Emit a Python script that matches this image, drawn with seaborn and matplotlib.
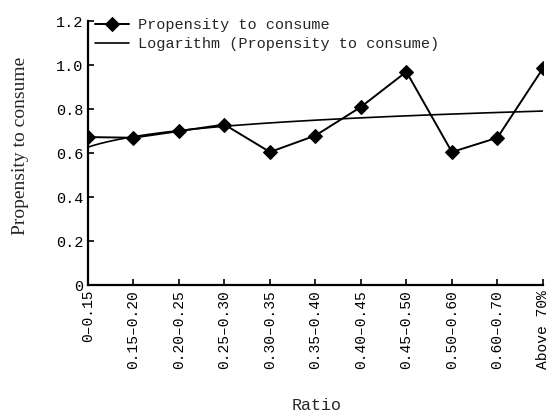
import matplotlib
matplotlib.use("Agg")
import matplotlib.pyplot as plt
import numpy as np
import seaborn as sns
import pandas as pd

# values
ratio_labels = ["0–0.15", "0.15–0.20", "0.20–0.25", "0.25–0.30", "0.30–0.35",
                "0.35–0.40", "0.40–0.45", "0.45–0.50", "0.50–0.60", "0.60–0.70",
                "Above 70%"]
propensity = [0.673, 0.670, 0.700, 0.730, 0.605, 0.680, 0.810, 0.970, 0.605, 0.670, 0.985]
y_ticks = [0, 0.2, 0.4, 0.6, 0.8, 1.0, 1.2]
y_ticklabels = ["0", "0.2", "0.4", "0.6", "0.8", "1.0", "1.2"]

sns.set_style("ticks")
plt.rcParams["font.family"] = ["Liberation Mono", "DejaVu Sans"]

df = pd.DataFrame({"pos": np.arange(len(ratio_labels)), "val": propensity})

# logarithmic trend line (like a spreadsheet trendline), fitted on x = 1..n
xn = np.arange(1, len(propensity) + 1)
a, b = np.polyfit(np.log(xn), propensity, 1)
xs = np.linspace(1, len(propensity), 300)
trend = pd.DataFrame({"pos": xs - 1, "val": a * np.log(xs) + b})

fig, ax = plt.subplots(figsize=(5.5, 4.15), dpi=100)
fig.subplots_adjust(left=0.16, right=0.987, top=0.949, bottom=0.313)

sns.lineplot(data=df, x="pos", y="val", ax=ax, color="black", lw=1.4,
             marker="D", markersize=7, markeredgecolor="black",
             label="Propensity to consume")
sns.lineplot(data=trend, x="pos", y="val", ax=ax, color="black", lw=1.2,
             label="Logarithm (Propensity to consume)")

ax.set_xlim(0, len(ratio_labels) - 1)
ax.set_ylim(0, 1.2)
ax.set_yticks(y_ticks)
ax.set_yticklabels(y_ticklabels, fontsize=11)
ax.set_xticks(df["pos"])
ax.set_xticklabels(ratio_labels, rotation=90, fontsize=10.5, ha="center", va="top")
ax.tick_params(direction="in", length=4, width=1.2, colors="black")

for s in ["top", "right"]:
    ax.spines[s].set_visible(False)
for s in ["left", "bottom"]:
    ax.spines[s].set_linewidth(1.6)
    ax.spines[s].set_color("black")

ax.set_xlabel("Ratio", fontsize=12)
ax.xaxis.label.set_va("center")
ax.xaxis.set_label_coords(0.503, -0.455)
ax.set_ylabel("Propensity to consume", fontsize=14, family=["Liberation Serif"])
ax.yaxis.label.set_va("center")
ax.yaxis.set_label_coords(-0.148, 0.527)

ax.legend(loc="upper left", frameon=False, fontsize=11, bbox_to_anchor=(-0.005, 1.045),
          handlelength=2.2, handletextpad=0.6, labelspacing=0.3, borderaxespad=0.2)

plt.savefig("out.png", dpi=100)
